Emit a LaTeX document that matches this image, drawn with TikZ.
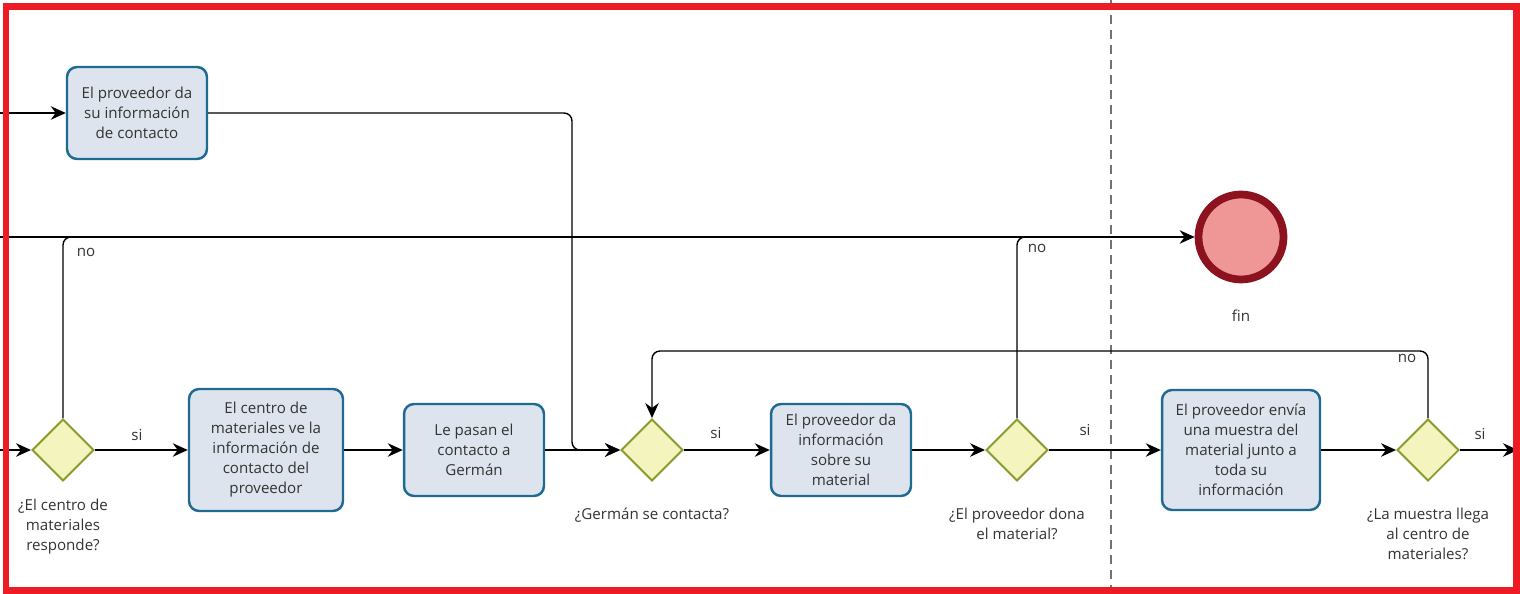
\documentclass[tikz,border=0pt]{standalone}
\usepackage{fontspec}
\setmainfont{Open Sans}
\usetikzlibrary{arrows.meta,positioning,shapes.geometric}
\definecolor{taskfill}{HTML}{DDE4EE}
\definecolor{taskline}{HTML}{1F6A92}
\definecolor{gatefill}{HTML}{F4F4BE}
\definecolor{gateline}{HTML}{8A9A2C}
\definecolor{endfill}{HTML}{EF9797}
\definecolor{endline}{HTML}{8C1220}
\definecolor{frame}{HTML}{ED1C24}
\definecolor{txt}{HTML}{333333}
\begin{document}
\begin{tikzpicture}[x=0.02cm, y=-0.02cm,
          every node/.style={align=center, font=\fontsize{8.6}{11.4}\selectfont, text=txt},
          task/.style={draw=taskline, fill=taskfill, line width=1.4pt, rounded corners=0.2cm,
                       minimum width=2.8cm, minimum height=1.84cm, inner sep=0},
          gate/.style={diamond, draw=gateline, fill=gatefill, line width=1.1pt,
                       minimum width=1.24cm, minimum height=1.24cm, inner sep=0},
          gtext/.style={below=0.4cm of #1},
          lbl/.style={inner sep=1pt},
          line/.style={draw=black, line width=0.8pt, rounded corners=0.16cm},
          flow/.style={line, -{Stealth[length=0.3cm, width=0.27cm]}}]
            \useasboundingbox (0,0) rectangle (1520,594);
            % lane divider
            \draw[dashed, draw=black!55, line width=0.8pt, dash pattern=on 0.18cm off 0.12cm] (1111,0) -- (1111,594);
            % Top task
            \node[task] (tA) at (137,113) {El proveedor da\\su información\\de contacto};
            % Bottom row
            \node[gate] (g1) at (63,450) {};
            \node[below=0.22cm of g1] (g1t) {¿El centro de\\materiales\\responde?};
            \node[task, minimum width=3.08cm, minimum height=2.44cm] (tB) at (266,450)
                {El centro de\\materiales ve la\\información de\\contacto del\\proveedor};
            \node[task] (tC) at (474,450) {Le pasan el\\contacto a\\Germán};
            \node[gate] (g2) at (652,450) {};
            \node[gtext=g2] (g2t) {¿Germán se contacta?};
            \node[task] (tD) at (841,450) {El proveedor da\\información\\sobre su\\material};
            \node[gate] (g3) at (1017,450) {};
            \node[gtext=g3] (g3t) {¿El proveedor dona\\el material?};
            \node[task, minimum width=3.16cm, minimum height=2.4cm] (tE) at (1241,450)
                {El proveedor envía\\una muestra del\\material junto a\\toda su\\información};
            \node[gate] (g4) at (1428,450) {};
            \node[gtext=g4] (g4t) {¿La muestra llega\\al centro de\\materiales?};
            % End event
            \node[circle, draw=endline, fill=endfill, line width=4.4pt, minimum size=1.7cm] (fin) at (1241,237) {};
            \node[below=0.4cm of fin] (fint) {fin};
            % loose ends
            \coordinate (inA) at (0,113);
            \coordinate (inN) at (0,237);
            \coordinate (inG) at (0,450);
            \coordinate (out) at (1518,450);
            \coordinate (jA) at (572,450);
            \coordinate (n1) at (110,237);
            \coordinate (n3) at (1060,237);
            \coordinate (loop) at (652,351);
            % connectors
            \draw[flow] (inA) -- (tA);
            \draw[flow] (tA) -| (jA) -- (g2);
            \draw[flow] (inN) -- (fin);
            \draw[line] (g1) |- (n1);
            \draw[line] (g3) |- (n3);
            \draw[flow] (g4) |- (loop) -- (g2);
            \draw[flow] (inG) -- (g1);
            \draw[flow] (g1) -- (tB);
            \draw[flow] (tB) -- (tC);
            \draw[flow] (tC) -- (g2);
            \draw[flow] (g2) -- (tD);
            \draw[flow] (tD) -- (g3);
            \draw[flow] (g3) -- (tE);
            \draw[flow] (tE) -- (g4);
            \draw[flow] (g4) -- (out);
            % labels
            \node[lbl] (l1) at (86,252) {no};
            \node[lbl] (l2) at (137,435) {si};
            \node[lbl] (l3) at (716,433) {si};
            \node[lbl] (l4) at (1037,248) {no};
            \node[lbl] (l5) at (1085,430) {si};
            \node[lbl] (l6) at (1407,358) {no};
            \node[lbl] (l7) at (1480,434) {si};
            % frame
            \draw[draw=frame, line width=0.14cm] (6,7) rectangle (1516,590);
        \end{tikzpicture}
\end{document}
